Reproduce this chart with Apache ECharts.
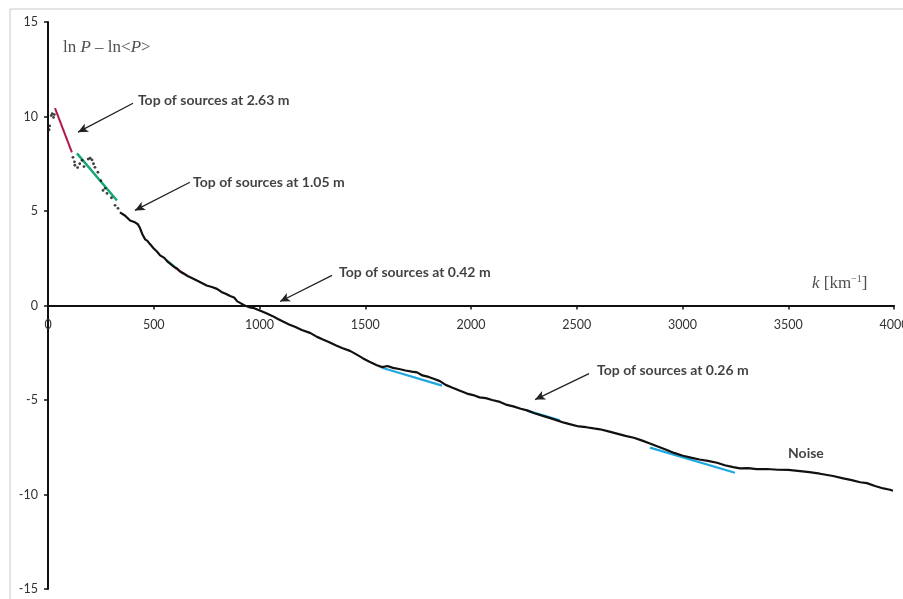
<!DOCTYPE html>
<html><head><meta charset="utf-8">
<script src="https://cdn.jsdelivr.net/npm/echarts@6/dist/echarts.min.js"></script>
<style>html,body{margin:0;padding:0;background:#fff}#c{width:903px;height:599px}</style>
</head><body><div id="c"></div>
<script>
// Main black spectrum curve (k, lnP - ln<P>)
const blackCurve = [
[340,4.93],[365,4.75],[388,4.5],[411,4.4],[425,4.3],[435,4.1],[445,3.8],[459,3.5],[470,3.42],[482,3.25],[500,3.02],[515,2.86],[530,2.65],[550,2.52],[565,2.32],[577,2.22],[595,2.05],[610,1.96],[625,1.8],[638,1.72],[660,1.56],[680,1.46],[704,1.32],[725,1.2],[750,1.06],[775,0.98],[799,0.88],[820,0.72],[840,0.62],[861,0.5],[880,0.42],[895,0.22],[908,0.14],[930,0.0],[955,-0.1],[975,-0.14],[995,-0.24],[1010,-0.3],[1035,-0.42],[1060,-0.55],[1085,-0.7],[1111,-0.85],[1140,-1.0],[1170,-1.14],[1200,-1.3],[1239,-1.45],[1272,-1.66],[1300,-1.8],[1330,-1.94],[1360,-2.1],[1390,-2.25],[1428,-2.4],[1460,-2.6],[1490,-2.8],[1520,-2.98],[1555,-3.16],[1580,-3.26],[1605,-3.2],[1631,-3.3],[1660,-3.36],[1690,-3.44],[1720,-3.5],[1745,-3.54],[1770,-3.7],[1800,-3.78],[1830,-3.9],[1853,-4.0],[1880,-4.2],[1910,-4.34],[1945,-4.5],[1981,-4.66],[2010,-4.74],[2040,-4.86],[2070,-4.9],[2100,-5.0],[2137,-5.1],[2170,-5.26],[2200,-5.34],[2235,-5.46],[2265,-5.55],[2300,-5.7],[2340,-5.84],[2375,-5.96],[2407,-6.08],[2440,-6.2],[2475,-6.3],[2510,-6.4],[2545,-6.44],[2580,-6.5],[2610,-6.55],[2650,-6.66],[2690,-6.78],[2730,-6.9],[2770,-7.0],[2810,-7.15],[2846,-7.3],[2880,-7.45],[2920,-7.62],[2960,-7.8],[3002,-7.95],[3040,-8.05],[3080,-8.15],[3120,-8.22],[3163,-8.32],[3200,-8.45],[3240,-8.55],[3272,-8.62],[3310,-8.6],[3350,-8.66],[3400,-8.65],[3450,-8.69],[3500,-8.7],[3556,-8.76],[3600,-8.82],[3650,-8.9],[3712,-9.02],[3760,-9.15],[3800,-9.24],[3840,-9.35],[3872,-9.4],[3910,-9.55],[3950,-9.68],[3981,-9.75],[3995,-9.8]
];
// Sparse low-k dots
const lowKDots = [
[5,9.3],[8,9.5],[15,10.05],[20,10.15],[26,9.95],[30,10.1],[118,7.84],[125,7.6],[127,7.42],[140,7.3],[150,7.5],[161,7.68],[170,7.35],[190,7.75],[199,7.79],[208,7.7],[215,7.5],[222,7.31],[236,7.05],[250,6.6],[260,6.09],[270,6.2],[279,5.93],[300,5.7],[317,5.3],[331,5.14]
];
// Fitted slope segments
const fitRed = [[33,10.44],[113,8.1]];
const fitGreen = [[137,8.05],[326,5.56]];
const fitGreen2 = [[560,2.4],[600,2.05]];
const fitPink = [[600,2.0],[640,1.66]];
const fitBlue1 = [[1579,-3.29],[1863,-4.24]];
const fitBlue2 = [[2265,-5.56],[2420,-6.08]];
const fitBlue3 = [[2846,-7.52],[3248,-8.85]];
// Annotations: [k, y, text]
const notes = [
[425,10.86,'Top of sources at 2.63 m'],
[686,6.52,'Top of sources at 1.05 m'],
[1376,1.75,'Top of sources at 0.42 m'],
[2596,-3.44,'Top of sources at 0.26 m'],
[3499,-7.84,'Noise']
];
const arrows = [
[[402,10.7],[142,9.17]],
[[671,6.52],[411,5.03]],
[[1343,1.59],[1097,0.21]],
[[2558,-3.6],[2303,-4.98]]
];
const xTicks = {min:0,max:4000,interval:500};
const yTicks = {min:-15,max:15,interval:5};

const seg = (d,c,w)=>({type:'line',data:d,symbol:'none',lineStyle:{color:c,width:w||2},silent:true,z:3});
const GRID_TOP = 22, GRID_BOTTOM = 10, H = 599;
const plotH = H - GRID_TOP - GRID_BOTTOM;
const zeroOffset = -plotH * (0 - yTicks.min) / (yTicks.max - yTicks.min);

const chart = echarts.init(document.getElementById('c'),null,{renderer:'canvas'});
chart.setOption({
  animation:false,
  backgroundColor:'#fff',
  graphic:[{type:'rect',shape:{x:10,y:9,width:1000,height:1000},style:{fill:'none',stroke:'#c8c8c8',lineWidth:1},z:-1}],
  grid:{left:48,right:9,top:GRID_TOP,bottom:GRID_BOTTOM,containLabel:false,outerBoundsMode:'none'},
  xAxis:{type:'value',min:xTicks.min,max:xTicks.max,interval:xTicks.interval,position:'bottom',offset:zeroOffset,
    axisLine:{onZero:false,lineStyle:{color:'#111',width:2}},
    axisTick:{show:true,length:4,lineStyle:{color:'#111',width:1.5}},
    axisLabel:{margin:13,color:'#333',fontFamily:'Lato',fontSize:12.5,formatter:v=>String(v)},
    splitLine:{show:false}},
  yAxis:{type:'value',min:yTicks.min,max:yTicks.max,interval:yTicks.interval,
    axisLine:{onZero:false,lineStyle:{color:'#111',width:2}},
    axisTick:{show:true,length:4,lineStyle:{color:'#111',width:1.5}},
    axisLabel:{margin:10,color:'#333',fontFamily:'Lato',fontSize:12.5,formatter:v=>String(v)},
    splitLine:{show:false}},
  series:[
    seg(fitGreen2,'#2bb673',2),
    seg(fitPink,'#e07a9a',2),
    seg(fitBlue1,'#1fa8e0',2.2),
    seg(fitBlue2,'#1fa8e0',2.2),
    seg(fitBlue3,'#1fa8e0',2.2),
    {type:'line',data:blackCurve,symbol:'none',lineStyle:{color:'#111',width:2.2},silent:true,z:4},
    seg(fitRed,'#b0194f',2),
    seg(fitGreen,'#17a673',2.4),
    {type:'scatter',data:lowKDots,symbolSize:2.8,itemStyle:{color:'#111'},silent:true,z:5},
    {type:'scatter',data:notes,symbolSize:0,silent:true,z:6,
      label:{show:true,position:'right',distance:0,formatter:p=>p.value[2],
        fontFamily:'Lato',fontWeight:'bold',fontSize:14,color:'#111'},
      markLine:{silent:true,symbol:['none','arrow'],symbolSize:[7,10],
        lineStyle:{color:'#222',width:1.3,type:'solid'},label:{show:false},
        data:arrows.map(a=>[{coord:a[0]},{coord:a[1]}])}},
    {type:'scatter',data:[[71,13.67]],symbolSize:0,silent:true,
      label:{show:true,position:'right',distance:0,
        formatter:'{n|ln }{i|P}{n| – ln<}{i|P}{n|>}',
        rich:{n:{fontFamily:'Liberation Serif',fontSize:17,color:'#222'},i:{fontFamily:'Liberation Serif',fontStyle:'italic',fontSize:17,color:'#222'}}}},
    {type:'scatter',data:[[3612,1.17]],symbolSize:0,silent:true,
      label:{show:true,position:'right',distance:0,
        formatter:'{i|k}{n| [km}{s|−1}{n|]}',
        rich:{n:{fontFamily:'Liberation Serif',fontSize:17,color:'#222'},i:{fontFamily:'Liberation Serif',fontStyle:'italic',fontSize:17,color:'#222'},s:{fontFamily:'Liberation Serif',fontSize:10,color:'#222',verticalAlign:'top',padding:[0,0,9,0]}}}}
  ]
});
</script></body></html>
